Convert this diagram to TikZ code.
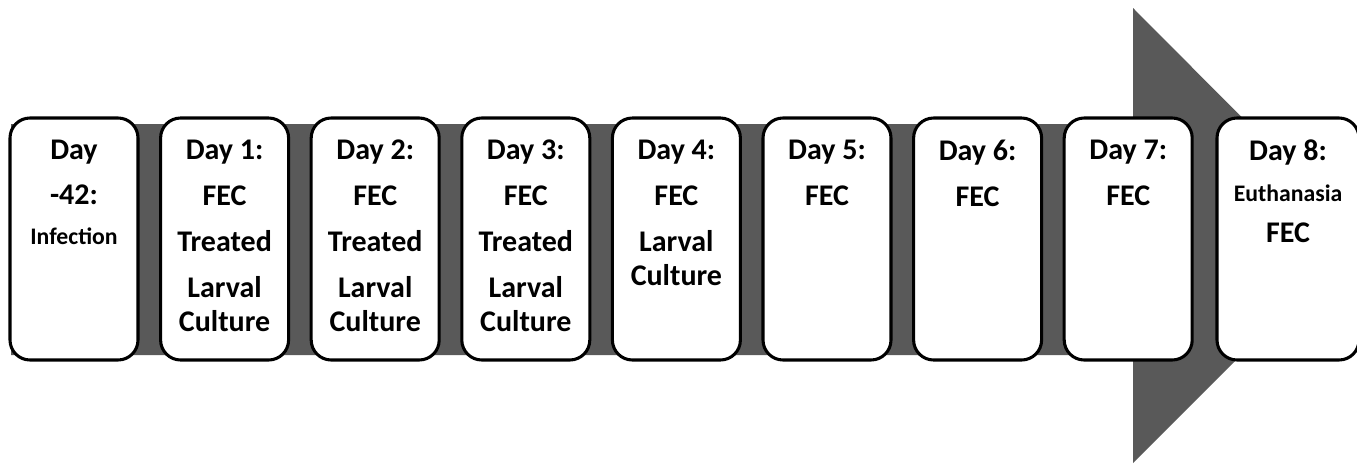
\documentclass[tikz,border=0pt]{standalone}
\usepackage{fontspec}
\setmainfont{Carlito}
\definecolor{arrowgray}{HTML}{595959}
\tikzset{
  dbox/.style={draw=black, line width=2.3pt, rounded corners=15pt, fill=white,
    minimum width=96pt, minimum height=181.5pt, inner sep=0pt},
  dtext/.style={anchor=north, align=center, inner sep=0pt,
    font=\fontsize{22.5}{25.5}\selectfont\bfseries},
}
\newcommand{\smtxt}[1]{{\fontsize{17.8}{20}\selectfont #1}}
\begin{document}
\begin{tikzpicture}[x=0.75pt,y=-0.75pt]
\useasboundingbox (0,0) rectangle (1357,465);
\fill[arrowgray] (11,124) -- (1133,124) -- (1133,8) -- (1360,236) -- (1133,463) -- (1133,355) -- (11,355) -- cycle;
\begin{scope}
\clip (0,0) rectangle (1357,465);
\foreach \i/\cx in {0/74,1/224.6,2/375.2,3/525.8,4/676.4,5/827,6/977.6,7/1128.2}{
  \node[dbox] (b\i) at (\cx,239) {};
}
\node[dbox, minimum width=106.5pt] (b8) at (1288,239) {};
\end{scope}
\node[dtext] (t0) at ([yshift=-17.5pt]b0.north) {Day\\[8pt]-42:\\[5pt]\smtxt{Infection}};
\node[dtext] (t1) at ([yshift=-17.5pt]b1.north) {Day 1:\\[9pt]FEC\\[9pt]Treated\\[9pt]Larval\\Culture};
\node[dtext] (t2) at ([yshift=-17.5pt]b2.north) {Day 2:\\[9pt]FEC\\[9pt]Treated\\[9pt]Larval\\Culture};
\node[dtext] (t3) at ([yshift=-17.5pt]b3.north) {Day 3:\\[9pt]FEC\\[9pt]Treated\\[9pt]Larval\\Culture};
\node[dtext] (t4) at ([yshift=-17.5pt]b4.north) {Day 4:\\[9pt]FEC\\[9pt]Larval\\Culture};
\node[dtext] (t5) at ([yshift=-17.5pt]b5.north) {Day 5:\\[9pt]FEC};
\node[dtext] (t6) at ([yshift=-17.5pt]b6.north) {Day 6:\\[9pt]FEC};
\node[dtext] (t7) at ([yshift=-17.5pt]b7.north) {Day 7:\\[9pt]FEC};
\node[dtext] (t8) at ([yshift=-17.5pt]b8.north) {Day 8:\\[5pt]\smtxt{Euthanasia}\\[5pt]FEC};
\end{tikzpicture}
\end{document}
